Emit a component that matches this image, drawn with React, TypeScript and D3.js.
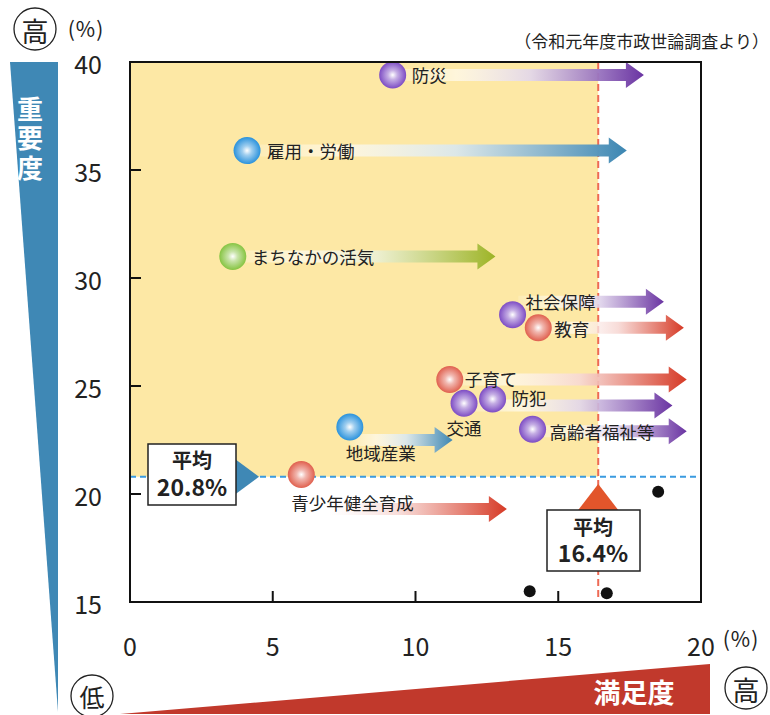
import React from "react";
import * as d3 from "d3";

// ---- data ----
const labels = ["防災", "雇用・労働", "まちなかの活気", "社会保障", "教育", "子育て", "交通", "防犯", "高齢者福祉等", "地域産業", "青少年健全育成"];
const satisfaction = [9.2, 4.1, 3.6, 13.4, 14.3, 11.2, 11.7, 12.7, 14.1, 7.7, 6.0];
const importance = [39.4, 35.9, 31.0, 28.3, 27.7, 25.3, 24.2, 24.4, 23.0, 23.1, 20.9];
const groups = ["purple", "blue", "green", "purple", "red", "red", "purple", "purple", "purple", "blue", "red"];
const arrowFrom: (number | null)[] = [9.2, 4.1, 3.6, 13.6, 14.3, 11.2, null, 11.8, 14.1, 7.7, 4.9];
const arrowTo: (number | null)[] = [18.0, 17.4, 12.8, 18.7, 19.4, 19.5, null, 19.0, 19.5, 11.3, 13.2];
const arrowAt: (number | null)[] = [39.4, 35.9, 31.0, 28.9, 27.7, 25.3, null, 24.1, 22.9, 22.5, 19.3];
const otherX = [18.5, 14.0, 16.7];
const otherY = [20.1, 15.5, 15.4];
const avgSatisfaction = 16.4;
const avgImportance = 20.8;
const xTicks = [0, 5, 10, 15, 20];
const yTicks = [15, 20, 25, 30, 35, 40];

// ---- layout / style ----
const labelLayout: Record<string, { dx: number; dy: number; anchor: string }> = {
  "防災": { dx: 19, dy: 0, anchor: "start" },
  "雇用・労働": { dx: 20, dy: 0, anchor: "start" },
  "まちなかの活気": { dx: 19, dy: 0, anchor: "start" },
  "社会保障": { dx: 13, dy: -13, anchor: "start" },
  "教育": { dx: 16, dy: 1, anchor: "start" },
  "子育て": { dx: 15, dy: -1, anchor: "start" },
  "交通": { dx: 0, dy: 24, anchor: "middle" },
  "防犯": { dx: 19, dy: -1, anchor: "start" },
  "高齢者福祉等": { dx: 17, dy: 2, anchor: "start" },
  "地域産業": { dx: -4, dy: 25, anchor: "start" },
  "青少年健全育成": { dx: -10, dy: 28, anchor: "start" },
};
const bubbleColors: Record<string, string> = {
  purple: "#7d4cc4",
  blue: "#2a92dc",
  green: "#86c442",
  red: "#e0604e",
};
const arrowColors: Record<string, string> = {
  purple: "#6a34a2",
  blue: "#3c86b2",
  green: "#9db426",
  red: "#d63a26",
};

const FONT = "'Noto Sans CJK JP', 'Noto Sans', sans-serif";

export default function App() {
  const left = 130, right = 701, top = 62, bottom = 602;
  const x = d3.scaleLinear().domain([0, 20]).range([left, right]);
  const y = d3.scaleLinear().domain([15, 40]).range([bottom, top]);

  const arrowPath = (x0: number, x1: number, yc: number) => {
    const head = 18, hs = 6, hh = 13;
    const p = d3.path();
    p.moveTo(x0, yc - hs);
    p.lineTo(x1 - head, yc - hs);
    p.lineTo(x1 - head, yc - hh);
    p.lineTo(x1, yc);
    p.lineTo(x1 - head, yc + hh);
    p.lineTo(x1 - head, yc + hs);
    p.lineTo(x0, yc + hs);
    p.closePath();
    return p.toString();
  };

  const avgX = x(avgSatisfaction);
  const avgY = y(avgImportance);

  return (
    <svg width={770} height={715} style={{ position: "absolute", left: 0, top: 0, fontFamily: FONT }}>
      <defs>
        {Object.keys(bubbleColors).map((k) => (
          <radialGradient key={k} id={`bub-${k}`} cx="50%" cy="50%" r="50%">
            <stop offset="0%" stopColor="#ffffff" />
            <stop offset="35%" stopColor={d3.interpolateRgb("#ffffff", bubbleColors[k])(0.45)} />
            <stop offset="100%" stopColor={bubbleColors[k]} />
          </radialGradient>
        ))}
        {Object.keys(arrowColors).map((k) => (
          <linearGradient key={k} id={`arr-${k}`} x1="0%" x2="100%" y1="0%" y2="0%">
            <stop offset="0%" stopColor="#ffffff" stopOpacity={0.15} />
            <stop offset="25%" stopColor="#ffffff" stopOpacity={0.6} />
            <stop offset="55%" stopColor={d3.interpolateRgb("#ffffff", arrowColors[k])(0.2)} stopOpacity={0.9} />
            <stop offset="100%" stopColor={arrowColors[k]} />
          </linearGradient>
        ))}
      </defs>

      {/* left importance wedge */}
      <polygon points="10,62 58,62 58,712" fill="#3f88b5" />
      <text x={30} y={96} writingMode="vertical-rl" fill="#fff" fontSize={26} fontWeight={700} letterSpacing={3.5}>
        重要度
      </text>
      {/* bottom satisfaction wedge */}
      <polygon points="120,714 710,664 710,714" fill="#c1392c" />
      <text x={634} y={691} textAnchor="middle" dominantBaseline="central" fill="#fff" fontSize={27} fontWeight={700}>
        満足度
      </text>

      {/* circled markers */}
      <circle cx={35} cy={29} r={21} fill="#fff" stroke="#222" strokeWidth={1.3} />
      <text x={35} y={30} textAnchor="middle" dominantBaseline="central" fontSize={27} fill="#222">高</text>
      <circle cx={92} cy={696} r={21} fill="#fff" stroke="#222" strokeWidth={1.3} />
      <text x={92} y={696} textAnchor="middle" dominantBaseline="central" fontSize={25} fill="#222">低</text>
      <circle cx={746} cy={688} r={21} fill="#fff" stroke="#222" strokeWidth={1.3} />
      <text x={746} y={689} textAnchor="middle" dominantBaseline="central" fontSize={27} fill="#222">高</text>

      {/* units and note */}
      <text x={86} y={28} textAnchor="middle" dominantBaseline="central" fontSize={21} letterSpacing={1} fill="#222">(%)</text>
      <text x={741} y={638} textAnchor="middle" dominantBaseline="central" fontSize={21} letterSpacing={1} fill="#222">(%)</text>
      <text x={769} y={40} textAnchor="end" dominantBaseline="central" fontSize={17} fill="#222">（令和元年度市政世論調査より）</text>

      {/* quadrant fill */}
      <rect x={left} y={top} width={avgX - left} height={avgY - top} fill="#fde8a5" />

      {/* average lines */}
      <line x1={left} x2={right} y1={avgY} y2={avgY} stroke="#3a9be0" strokeWidth={2} strokeDasharray="6,4" />
      <line x1={avgX} x2={avgX} y1={top} y2={bottom} stroke="#ee6a55" strokeWidth={2} strokeDasharray="7,4" />

      {/* arrows */}
      {labels.map((l, i) =>
        arrowFrom[i] == null ? null : (
          <path key={`a-${l}`} d={arrowPath(x(arrowFrom[i] as number), x(arrowTo[i] as number), y(arrowAt[i] as number))} fill={`url(#arr-${groups[i]})`} />
        )
      )}

      {/* bubbles */}
      {labels.map((l, i) => (
        <circle key={`b-${l}`} cx={x(satisfaction[i])} cy={y(importance[i])} r={13.5} fill={`url(#bub-${groups[i]})`} />
      ))}
      {/* labels */}
      {labels.map((l, i) => {
        const lo = labelLayout[l];
        return (
          <text key={`t-${l}`} x={x(satisfaction[i]) + lo.dx} y={y(importance[i]) + lo.dy} textAnchor={lo.anchor as any} dominantBaseline="central" fontSize={17.5} fill="#222">
            {l}
          </text>
        );
      })}

      {/* other items */}
      {otherX.map((v, i) => (
        <circle key={`o-${i}`} cx={x(v)} cy={y(otherY[i])} r={6} fill="#111" />
      ))}

      {/* frame */}
      <rect x={left} y={top} width={right - left} height={bottom - top} fill="none" stroke="#111" strokeWidth={2} />
      {yTicks.map((t) => (
        <g key={`yt-${t}`}>
          <line x1={left} x2={left + 11} y1={y(t)} y2={y(t)} stroke="#111" strokeWidth={2} />
          <text x={102} y={y(t) + 1} textAnchor="end" dominantBaseline="central" fontSize={25} fill="#222">{t}</text>
        </g>
      ))}
      {xTicks.map((t) => (
        <g key={`xt-${t}`}>
          <line x1={x(t)} x2={x(t)} y1={bottom} y2={bottom - 11} stroke="#111" strokeWidth={2} />
          <text x={x(t)} y={645} textAnchor="middle" dominantBaseline="central" fontSize={25} fill="#222">{t}</text>
        </g>
      ))}

      {/* average callouts */}
      <polygon points={`236,${avgY - 17} 259,${avgY} 236,${avgY + 17}`} fill="#3f88b5" />
      <rect x={148} y={444} width={88} height={61} fill="#fff" stroke="#222" strokeWidth={1.5} />
      <text x={192} y={468} textAnchor="middle" fontWeight={700} fill="#222">
        <tspan x={192} fontSize={20}>平均</tspan>
        <tspan x={192} dy={28} fontSize={23}>{`${avgImportance}%`}</tspan>
      </text>

      <polygon points={`${avgX - 20},510 ${avgX},484 ${avgX + 20},510`} fill="#e2552b" />
      <rect x={547} y={510} width={93} height={61} fill="#fff" stroke="#222" strokeWidth={1.5} />
      <text x={593} y={535} textAnchor="middle" fontWeight={700} fill="#222">
        <tspan x={593} fontSize={20}>平均</tspan>
        <tspan x={593} dy={27} fontSize={23}>{`${avgSatisfaction}%`}</tspan>
      </text>
    </svg>
  );
}
